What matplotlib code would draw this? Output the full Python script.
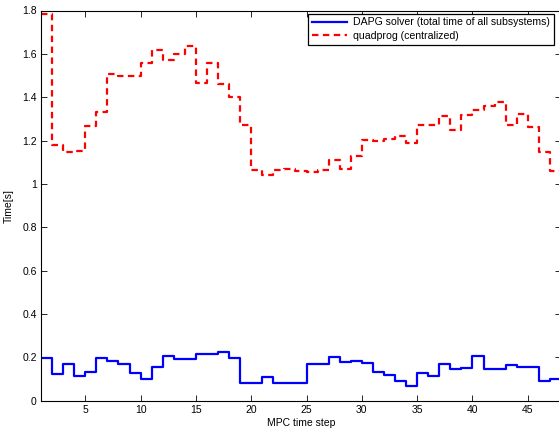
import matplotlib
matplotlib.use("Agg")
import matplotlib.pyplot as plt
import numpy as np

plt.rcParams['font.family'] = ['Liberation Sans', 'DejaVu Sans']

steps = list(range(1, 49))
dapg = [0.195, 0.123, 0.168, 0.114, 0.134, 0.198, 0.181, 0.168, 0.129, 0.099,
        0.157, 0.206, 0.192, 0.192, 0.214, 0.215, 0.226, 0.197, 0.080, 0.083,
        0.111, 0.081, 0.082, 0.080, 0.168, 0.170, 0.203, 0.180, 0.181, 0.175,
        0.131, 0.118, 0.092, 0.069, 0.126, 0.114, 0.168, 0.146, 0.151, 0.206,
        0.148, 0.146, 0.165, 0.154, 0.157, 0.092, 0.100, 0.100]
quadprog = [1.785, 1.180, 1.146, 1.153, 1.266, 1.334, 1.505, 1.498, 1.500, 1.557,
            1.620, 1.572, 1.600, 1.635, 1.465, 1.557, 1.460, 1.400, 1.270, 1.064,
            1.041, 1.064, 1.071, 1.059, 1.056, 1.064, 1.110, 1.071, 1.128, 1.202,
            1.200, 1.207, 1.223, 1.191, 1.273, 1.271, 1.313, 1.248, 1.320, 1.342,
            1.360, 1.379, 1.271, 1.322, 1.264, 1.148, 1.058, 1.130]

xticks = [5, 10, 15, 20, 25, 30, 35, 40, 45]
yticks = [0, 0.2, 0.4, 0.6, 0.8, 1.0, 1.2, 1.4, 1.6, 1.8]
ytick_labels = ['0', '0.2', '0.4', '0.6', '0.8', '1', '1.2', '1.4', '1.6', '1.8']

fig = plt.figure(figsize=(5.59, 4.32), dpi=100)
ax = fig.add_axes([41 / 559, 31.3 / 432, (561 - 41) / 559, 390.2 / 432])

ax.step(steps, dapg, where='post', color='#0000ff', lw=1.6,
        label='DAPG solver (total time of all subsystems)')
ax.step(steps, quadprog, where='post', color='#ff0000', lw=1.6,
        dashes=(2.9, 2.0), label='quadprog (centralized)')

ax.set_xlim(1, 48)
ax.set_ylim(0, 1.8)
ax.set_xticks(xticks)
ax.set_yticks(yticks)
ax.set_yticklabels(ytick_labels)
ax.tick_params(direction='in', top=True, right=True, length=4, width=0.6,
               labelsize=7.5, pad=3)
for s in ax.spines.values():
    s.set_linewidth(0.8)

ax.set_xlabel('MPC time step', fontsize=7.5, labelpad=2)
ax.set_ylabel('Time[s]', fontsize=7.5, labelpad=6)

leg = ax.legend(loc='upper right', fontsize=7.6, fancybox=False,
                edgecolor='black', framealpha=1, borderaxespad=0.3,
                handlelength=3.3, handletextpad=0.6, borderpad=0.35,
                labelspacing=0.35, bbox_to_anchor=(0.992, 1.0))
leg.get_frame().set_linewidth(0.9)

fig.savefig('out.png', dpi=100)
